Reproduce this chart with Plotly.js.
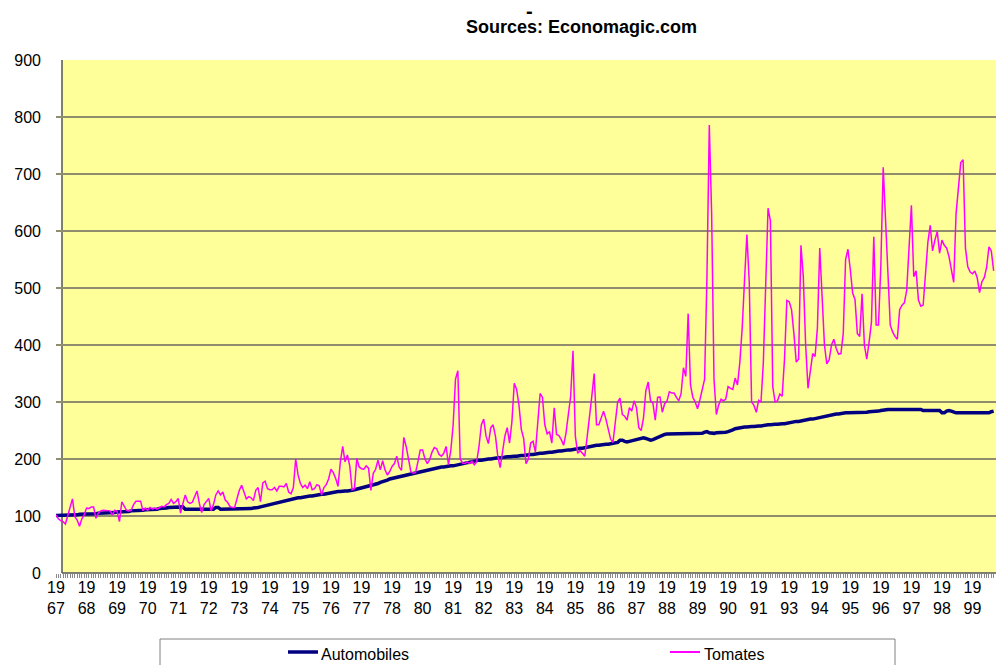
<!DOCTYPE html>
<html>
<head>
<meta charset="utf-8">
<script src="https://cdn.plot.ly/plotly-3.0.1.min.js"></script>
<style>html,body{margin:0;padding:0;background:#fff}#chart{width:996px;height:665px}</style>
</head>
<body>
<div id="chart"></div>
<script>
// Monthly index values, January 1967 onwards
const automobiles = [
  101,101,101,101,101,102,102,102,102,102,103,103, // 1967
  103,103,104,104,104,104,105,105,105,105,105,106, // 1968
  106,106,107,107,107,108,108,108,109,109,109,110, // 1969
  110,110,111,111,111,112,112,112,113,113,114,114, // 1970
  115,115,115,116,116,116,116,112,112,112,112,112, // 1971
  112,112,112,112,112,112,112,112,115,115,112,112, // 1972
  112,112,112,113,113,113,113,113,113,113,113,113, // 1973
  114,114,115,116,117,118,120,121,122,123,124,125, // 1974
  126,127,128,129,130,130,131,132,132,133,133,134, // 1975
  135,135,136,136,137,138,138,139,140,141,142,143, // 1976
  143,143,144,144,144,144,145,146,147,149,150,151, // 1977
  152,153,154,155,156,157,159,160,162,163,165,166, // 1978
  167,168,169,170,171,172,173,174,175,176,177,178, // 1979
  178,179,180,181,182,183,184,185,186,186,187,187, // 1980
  188,188,189,189,190,191,192,193,194,195,196,197, // 1981
  198,198,199,199,200,200,201,201,202,202,203,203, // 1982
  204,204,205,205,205,206,206,206,207,207,208,208, // 1983
  209,209,210,210,211,211,212,212,213,213,214,214, // 1984
  215,215,216,216,217,217,218,219,219,220,221,222, // 1985
  223,223,224,224,225,225,226,226,227,227,228,229, // 1986
  233,233,231,230,231,232,233,234,235,236,237,236, // 1987
  234,233,234,236,238,240,242,243,244,244,244,244, // 1988
  244,244,244,244,244,244,244,244,244,244,244,245, // 1989
  247,248,246,245,245,246,246,246,246,247,248,249, // 1990
  251,253,254,255,255,256,256,257,257,257,258,258, // 1991
  258,259,259,260,260,261,261,261,262,262,262,263, // 1992
  264,265,265,266,266,267,267,268,269,270,270,271, // 1993
  272,273,274,275,276,277,277,278,279,279,280,280, // 1994
  281,281,281,282,282,282,282,282,282,282,283,283, // 1995
  283,283,284,285,286,287,287,287,287,287,287,287, // 1996
  287,287,287,287,287,287,287,287,287,285,285,285, // 1997
  285,285,285,285,285,281,281,284,285,284,282,281, // 1998
  281,281,281,281,281,281,281,281,281,281,281,281, // 1999
  281,281,283,284                                  // 2000
];
const tomates = [
  102,95,92,90,86,100,118,130,99,93,82,95,         // 1967
  102,114,113,116,116,96,105,109,110,110,110,109,  // 1968
  102,110,108,90,125,117,110,109,110,120,126,126,  // 1969
  126,109,114,110,115,112,114,112,115,117,116,120, // 1970
  122,129,122,125,131,105,122,137,125,122,124,135, // 1971
  144,122,106,120,125,131,109,120,137,144,137,142, // 1972
  128,124,117,115,115,129,145,154,140,130,134,132, // 1973
  127,145,150,125,158,161,148,146,146,150,144,152, // 1974
  152,151,157,142,139,150,200,172,157,150,154,148, // 1975
  160,146,148,155,153,137,150,155,165,182,176,166, // 1976
  152,195,222,195,207,188,146,148,201,186,183,182, // 1977
  188,184,145,175,182,198,181,197,181,172,178,187, // 1978
  192,205,186,180,238,222,200,178,175,176,195,216, // 1979
  216,200,192,199,212,220,218,208,205,210,222,190, // 1980
  215,260,340,355,200,193,192,195,192,196,190,195, // 1981
  222,260,270,240,227,255,260,240,205,185,212,240, // 1982
  255,228,265,333,322,295,252,236,192,200,228,231, // 1983
  212,271,315,308,260,244,248,228,290,243,241,234, // 1984
  224,245,280,310,390,240,210,215,210,205,238,270, // 1985
  310,350,260,260,272,284,270,250,235,229,268,300, // 1986
  307,278,275,268,290,284,302,290,255,250,272,320, // 1987
  335,302,298,268,308,309,282,297,302,318,316,316, // 1988
  308,302,315,360,345,455,330,308,300,288,304,322, // 1989
  340,520,786,630,340,278,295,305,302,305,327,324, // 1990
  322,342,330,370,430,515,594,510,300,294,282,303, // 1991
  300,370,530,640,618,327,300,302,314,310,375,478, // 1992
  476,462,420,370,375,575,520,400,324,360,385,380, // 1993
  430,570,480,400,367,374,400,410,394,384,385,420, // 1994
  550,568,532,491,480,420,415,490,400,375,405,440, // 1995
  590,435,435,540,712,610,515,435,423,415,410,462, // 1996
  470,474,496,565,645,520,530,479,468,470,535,580, // 1997
  610,565,584,599,561,584,575,570,555,535,510,630, // 1998
  675,720,725,570,537,528,525,530,518,492,511,518, // 1999
  536,572,565,530                                  // 2000
];
// Category labels shown on the axis (every 13th month, as in the original)
const tickYears = ['67','68','69','70','71','72','73','74','75','76','77','78',
                   '80','81','82','83','84','85','86','87','88','89','90','91',
                   '93','94','95','96','97','98','99'];
const labelStep = 13;
const seriesNames = ['Automobiles', 'Tomates'];

const months = automobiles.map((_, i) => i);
const tickvals = tickYears.map((_, k) => k * labelStep);
const ticktext = tickYears.map(y => '19<br>' + y);

const W = 996, H = 665, L = 56, T = 60, B = 92;
const plotW = W - L, plotH = H - T - B;
const px = x => (x - L) / plotW;
const py = y => (H - B - y) / plotH;

const traces = [
  {x: months, y: automobiles, name: seriesNames[0], type: 'scatter', mode: 'lines',
   line: {color: '#000080', width: 3.5}},
  {x: months, y: tomates, name: seriesNames[1], type: 'scatter', mode: 'lines',
   line: {color: '#ff00ff', width: 1.5}}
];

const layout = {
  width: W, height: H,
  margin: {l: L, r: 0, t: T, b: B, pad: 0},
  paper_bgcolor: '#ffffff', plot_bgcolor: '#ffffff',
  showlegend: false,
  font: {family: 'Liberation Sans, Arial, sans-serif', color: '#000', size: 16},
  xaxis: {
    range: [0, 400], tickmode: 'array', tickvals: tickvals, ticktext: ticktext,
    ticks: '', showgrid: false, zeroline: false, showline: false,
    tickfont: {size: 16}, ticklabelstandoff: 3,
    minor: {tickmode: 'linear', tick0: 0, dtick: 1, ticks: 'outside', ticklen: 4,
            tickcolor: '#8a8a8a', tickwidth: 1, showgrid: false}
  },
  yaxis: {
    range: [0, 900], tickmode: 'linear', tick0: 0, dtick: 100,
    showgrid: true, gridcolor: '#8f8d6e', gridwidth: 1.5,
    zeroline: false, showline: false, ticks: '',
    tickfont: {size: 16}, ticklabelstandoff: 14
  },
  shapes: [
    {type: 'rect', xref: 'paper', yref: 'paper', x0: px(62), x1: 1, y0: 0, y1: 1,
     fillcolor: '#ffff99', line: {width: 0}, layer: 'below'},
    {type: 'line', xref: 'paper', yref: 'paper', x0: px(62), x1: px(62), y0: 0, y1: 1,
     line: {color: '#555555', width: 1.5}, layer: 'between'},
    {type: 'line', xref: 'paper', yref: 'paper', x0: px(62), x1: 1, y0: 0, y1: 0,
     line: {color: '#555555', width: 1.5}, layer: 'between'},
    {type: 'rect', xref: 'paper', yref: 'paper', x0: px(160), x1: px(895), y0: py(639), y1: py(672),
     fillcolor: '#ffffff', line: {color: '#808080', width: 1}, layer: 'above'},
    {type: 'line', xref: 'paper', yref: 'paper', x0: px(288), x1: px(318), y0: py(652), y1: py(652),
     line: {color: '#000080', width: 3.5}, layer: 'above'},
    {type: 'line', xref: 'paper', yref: 'paper', x0: px(670), x1: px(700), y0: py(652), y1: py(652),
     line: {color: '#ff00ff', width: 2}, layer: 'above'}
  ],
  annotations: [
    {text: '<b>-</b>', xref: 'paper', yref: 'paper', x: px(529), y: py(11),
     xanchor: 'center', yanchor: 'middle', showarrow: false, font: {size: 20}},
    {text: '<b>Sources: Economagic.com</b>', xref: 'paper', yref: 'paper', x: px(581), y: py(27),
     xanchor: 'center', yanchor: 'middle', showarrow: false, font: {size: 18}},
    {text: seriesNames[0], xref: 'paper', yref: 'paper', x: px(319), y: py(654),
     xanchor: 'left', yanchor: 'middle', showarrow: false, font: {size: 16}},
    {text: seriesNames[1], xref: 'paper', yref: 'paper', x: px(702), y: py(654),
     xanchor: 'left', yanchor: 'middle', showarrow: false, font: {size: 16}}
  ]
};

Plotly.newPlot('chart', traces, layout, {displayModeBar: false, staticPlot: true});
</script>
</body>
</html>
